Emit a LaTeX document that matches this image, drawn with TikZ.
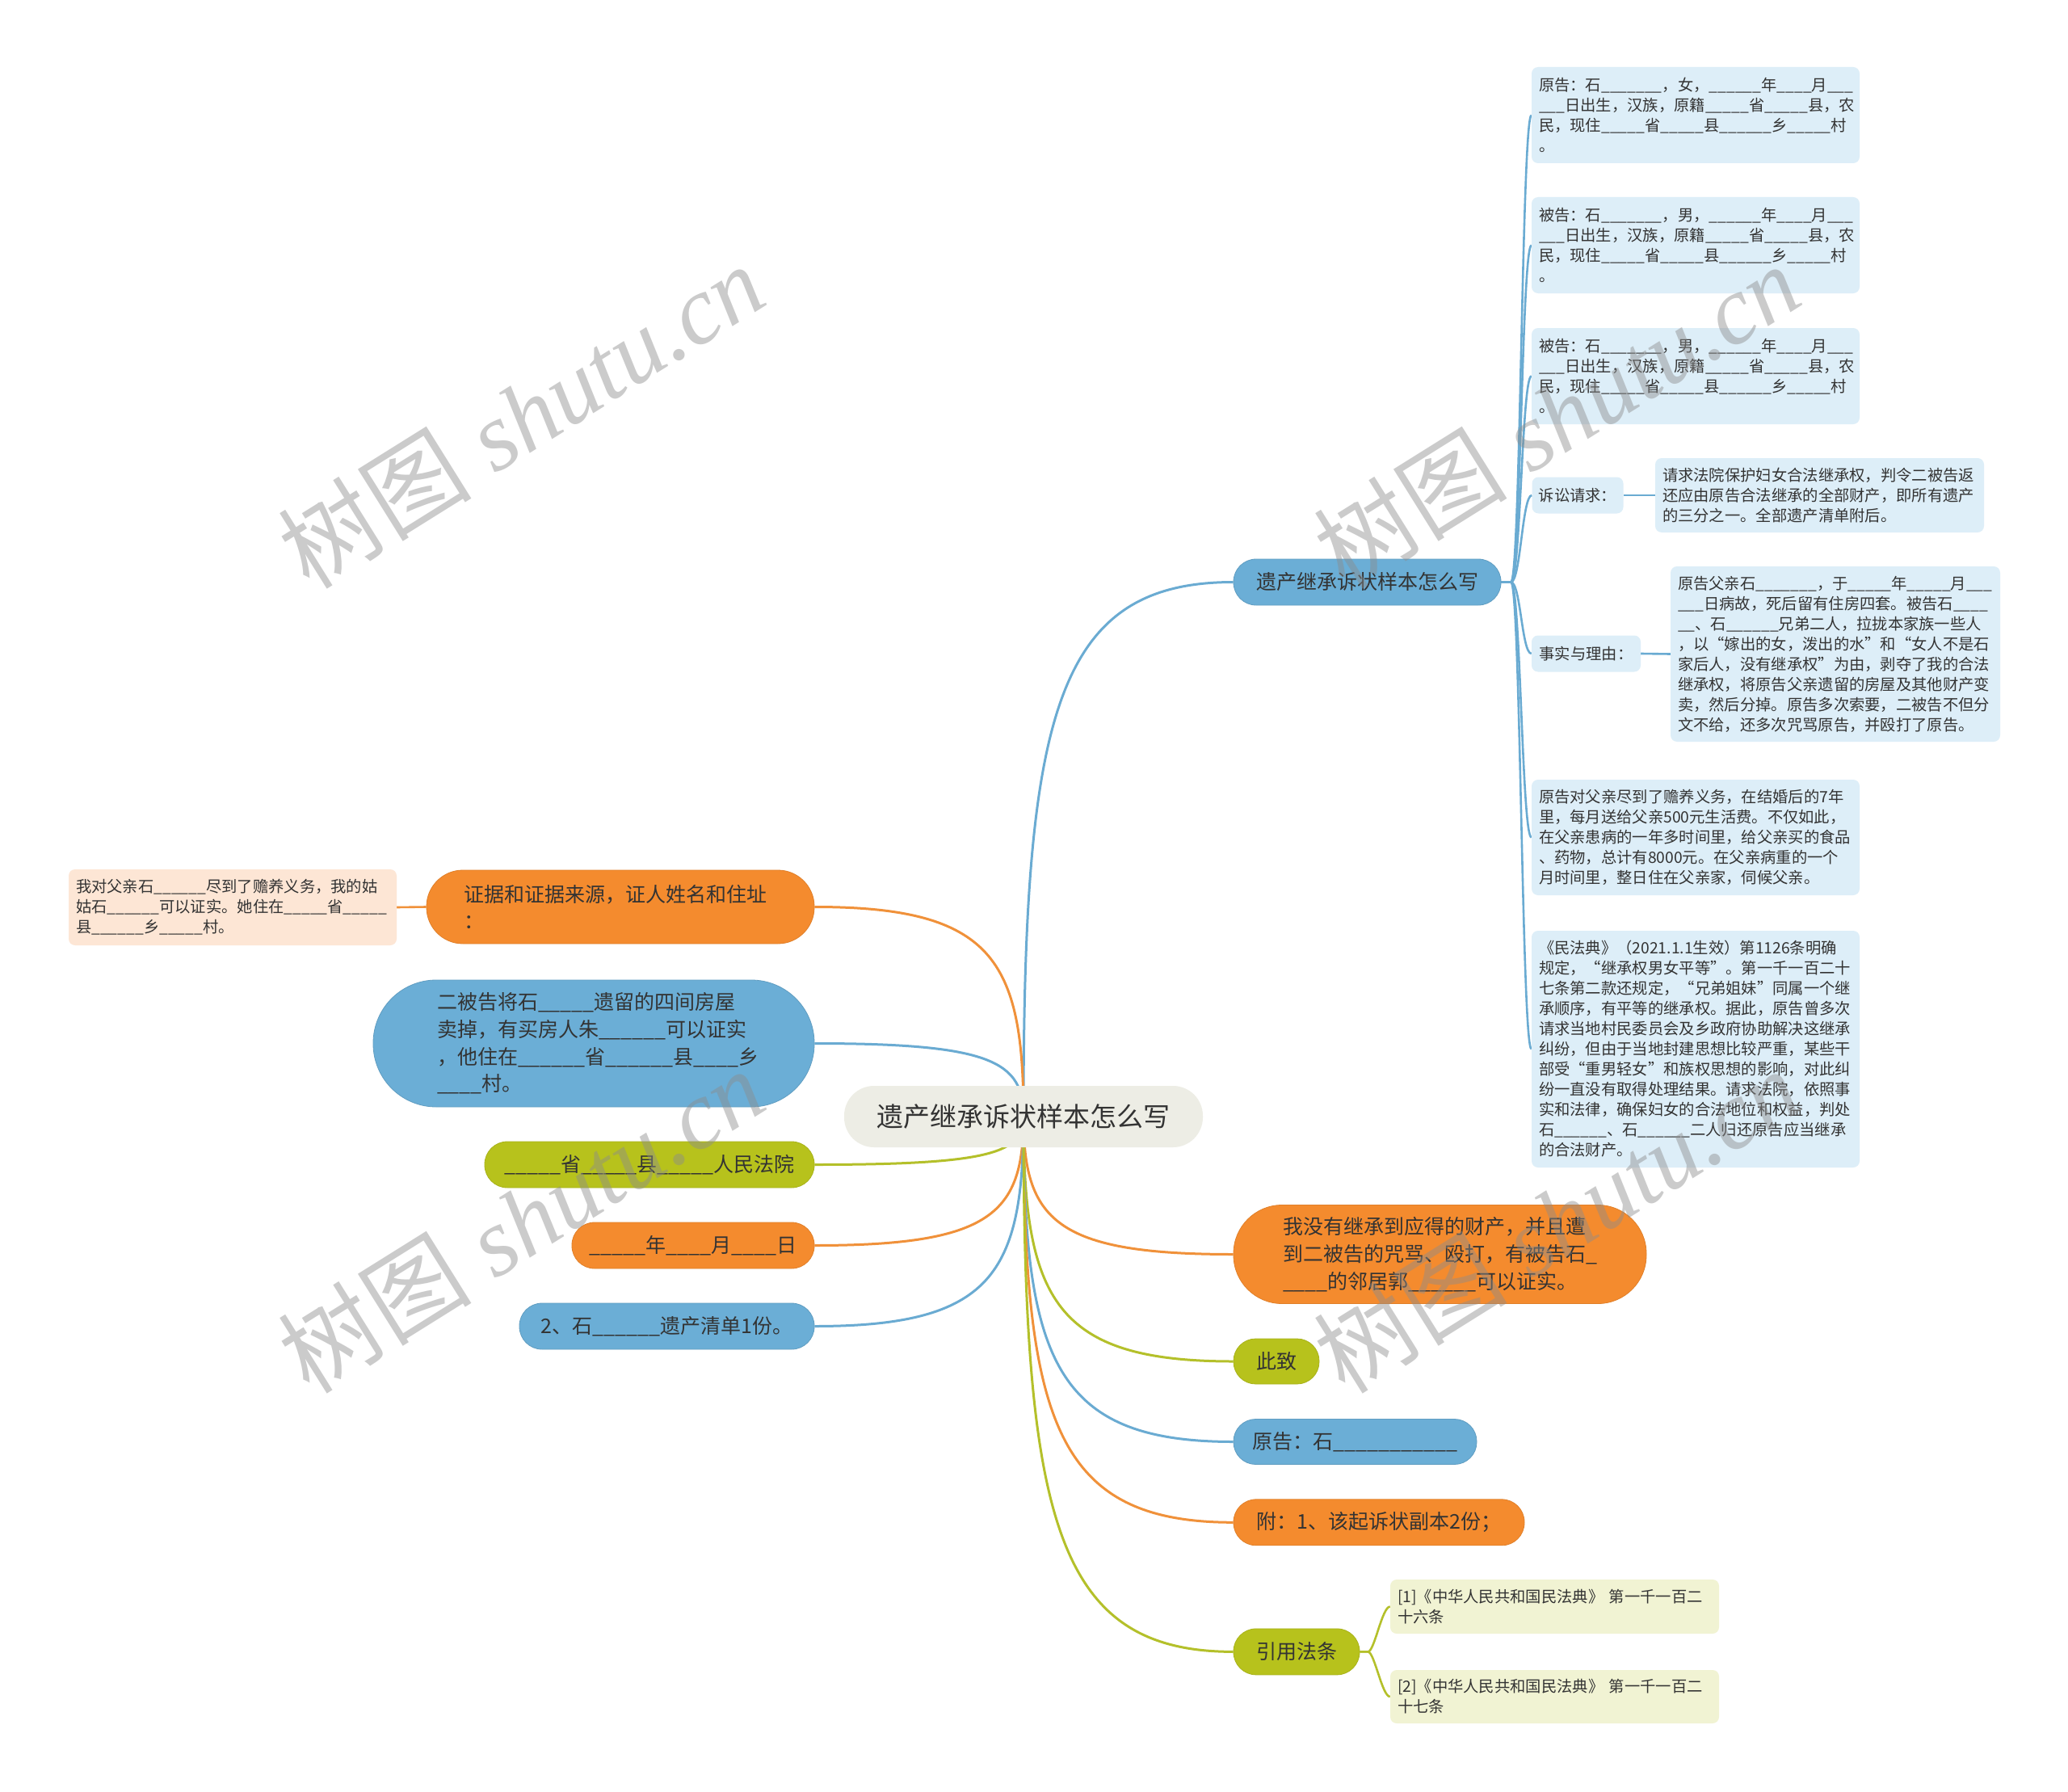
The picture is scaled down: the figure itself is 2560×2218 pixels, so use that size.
\documentclass[tikz,border=0pt]{standalone}
\usepackage{fontspec}
\setmainfont{Noto Sans CJK SC}
\newfontfamily\wmlatin{Liberation Serif}
\usetikzlibrary{calc}
\pgfdeclarelayer{bg}
\pgfsetlayers{bg,main}
\definecolor{cblue}{HTML}{6BAED6}
\definecolor{corange}{HTML}{F48B2E}
\definecolor{cgreen}{HTML}{B7C21C}
\definecolor{croot}{HTML}{EDEDE5}
\definecolor{lblue}{HTML}{DDEEF8}
\definecolor{lpeach}{HTML}{FDE6D5}
\definecolor{lyellow}{HTML}{F1F3D3}
\definecolor{ink}{HTML}{333333}
\definecolor{lnblue}{HTML}{6AABD2}
\definecolor{lnorange}{HTML}{F0913A}
\definecolor{lngreen}{HTML}{B4C02A}
\tikzset{
  txt/.style={inner sep=0pt, text=ink},
  lf/.style={txt, rectangle, rounded corners=8pt, font=\fontsize{19.3}{25}\selectfont},
  lfw/.style={lf, minimum width=406pt, text width=388pt, align=left},
  pl/.style={txt, rectangle, font=\fontsize{25}{33.7}\selectfont, line width=0.8pt},
  bluepl/.style={pl, fill=cblue, draw=cblue!90!black},
  orangepl/.style={pl, fill=corange, draw=corange!92!black},
  greenpl/.style={pl, fill=cgreen, draw=cgreen!92!black},
  rootnode/.style={txt, rectangle, fill=croot, rounded corners=37pt, font=\fontsize{33}{40}\selectfont},
  mconn/.style={line width=3pt, to path={.. controls ($(\tikztostart)!0.75!(\tikztostart|-\tikztotarget)$) and ($(\tikztotarget)!0.85!(\tikztostart|-\tikztotarget)$) .. (\tikztotarget)}},
  lconn/.style={line width=2.6pt},
  wmk/.style={inner sep=0pt, text=black!45, opacity=0.45, font=\fontsize{120}{120}\selectfont, rotate=32}
}
\begin{document}
\catcode`\_=12
\begin{tikzpicture}[x=1pt,y=-1pt]
\useasboundingbox (0,0) rectangle (2560,2218);

% root
\node[rootnode, minimum width=444pt, minimum height=76pt] (root) at (1267,1382) {遗产继承诉状样本怎么写};

% top right branch
\node[bluepl, minimum width=331pt, minimum height=57pt, rounded corners=28pt] (b1) at (1692.5,720.5) {遗产继承诉状样本怎么写};

\node[lfw, fill=lblue, minimum height=119pt] (p1) at (2099,142.5) {原告：石_______，女，______年____月___\\___日出生，汉族，原籍_____省_____县，农\\民，现住_____省_____县______乡_____村\\。};
\node[lfw, fill=lblue, minimum height=119pt] (d1) at (2099,303.5) {被告：石_______，男，______年____月___\\___日出生，汉族，原籍_____省_____县，农\\民，现住_____省_____县______乡_____村\\。};
\node[lfw, fill=lblue, minimum height=119pt] (d2) at (2099,465.5) {被告：石_______，男，______年____月___\\___日出生，汉族，原籍_____省_____县，农\\民，现住_____省_____县______乡_____村\\。};
\node[lf, fill=lblue, minimum width=113pt, minimum height=45pt] (q) at (1953,613) {诉讼请求：};
\node[lf, fill=lblue, minimum width=407pt, text width=389pt, align=left, minimum height=92pt] (qc) at (2252.5,613) {请求法院保护妇女合法继承权，判令二被告返\\还应由原告合法继承的全部财产，即所有遗产\\的三分之一。全部遗产清单附后。};
\node[lf, fill=lblue, minimum width=135pt, minimum height=45pt] (f) at (1963.5,809) {事实与理由：};
\node[lf, fill=lblue, minimum width=408pt, text width=390pt, align=left, minimum height=217pt] (fc) at (2272,809.5) {原告父亲石_______，于_____年_____月___\\___日病故，死后留有住房四套。被告石____\\__、石______兄弟二人，拉拢本家族一些人\\，以“嫁出的女，泼出的水”和“女人不是石\\家后人，没有继承权”为由，剥夺了我的合法\\继承权，将原告父亲遗留的房屋及其他财产变\\卖，然后分掉。原告多次索要，二被告不但分\\文不给，还多次咒骂原告，并殴打了原告。};
\node[lfw, fill=lblue, minimum height=143pt] (e1) at (2099,1036.5) {原告对父亲尽到了赡养义务，在结婚后的7年\\里，每月送给父亲500元生活费。不仅如此，\\在父亲患病的一年多时间里，给父亲买的食品\\、药物，总计有8000元。在父亲病重的一个\\月时间里，整日住在父亲家，伺候父亲。};
\node[lfw, fill=lblue, minimum height=293pt] (e2) at (2099,1298.5) {《民法典》（2021.1.1生效）第1126条明确\\规定，“继承权男女平等”。第一千一百二十\\七条第二款还规定，“兄弟姐妹”同属一个继\\承顺序，有平等的继承权。据此，原告曾多次\\请求当地村民委员会及乡政府协助解决这继承\\纠纷，但由于当地封建思想比较严重，某些干\\部受“重男轻女”和族权思想的影响，对此纠\\纷一直没有取得处理结果。请求法院，依照事\\实和法律，确保妇女的合法地位和权益，判处\\石______、石______二人归还原告应当继承\\的合法财产。};

% left side
\node[orangepl, minimum width=480pt, minimum height=91pt, rounded corners=45pt, text width=388pt, align=left] (ev) at (768,1122.5) {证据和证据来源，证人姓名和住址\\：};
\node[lfw, fill=lpeach, minimum height=94pt] (evc) at (288,1123) {我对父亲石______尽到了赡养义务，我的姑\\姑石______可以证实。她住在_____省_____\\县______乡_____村。};
\node[bluepl, minimum width=546pt, minimum height=157pt, rounded corners=78pt, text width=388pt, align=left] (sell) at (735,1291.5) {二被告将石_____遗留的四间房屋\\卖掉，有买房人朱______可以证实\\，他住在______省______县____乡\\____村。};
\node[greenpl, minimum width=408pt, minimum height=57pt, rounded corners=28pt] (court) at (804,1441.5) {_____省_____县_____人民法院};
\node[orangepl, minimum width=300pt, minimum height=57pt, rounded corners=28pt] (date) at (858,1541.5) {_____年____月____日};
\node[bluepl, minimum width=365pt, minimum height=57pt, rounded corners=28pt] (list) at (825.5,1641.5) {2、石______遗产清单1份。};

% right bottom
\node[orangepl, minimum width=511pt, minimum height=122pt, rounded corners=60pt, text width=389pt, align=left] (nobeq) at (1782.5,1552.5) {我没有继承到应得的财产，并且遭\\到二被告的咒骂、殴打，有被告石_\\____的邻居郭______可以证实。};
\node[greenpl, minimum width=106pt, minimum height=56pt, rounded corners=27.5pt] (cizhi) at (1580,1685) {此致};
\node[bluepl, minimum width=301pt, minimum height=56pt, rounded corners=27.5pt] (yuangao) at (1677.5,1784.5) {原告：石___________};
\node[orangepl, minimum width=360pt, minimum height=57pt, rounded corners=28pt] (fu) at (1707,1884.3) {附：1、该起诉状副本2份；};
\node[greenpl, minimum width=156pt, minimum height=57pt, rounded corners=28pt] (yinyong) at (1605,2044.4) {引用法条};
\node[lf, fill=lyellow, minimum width=407pt, text width=389pt, align=left, minimum height=67pt] (r1) at (1924.5,1988.5) {[1]《中华人民共和国民法典》 第一千一百二\\十六条};
\node[lf, fill=lyellow, minimum width=407pt, text width=389pt, align=left, minimum height=66pt] (r2) at (1924.5,2100) {[2]《中华人民共和国民法典》 第一千一百二\\十七条};

% watermarks
\node[wmk] (wm1) at (645,514) {树图\hspace{0.25em}{\wmlatin\itshape shutu.cn}};
\node[wmk] (wm2) at (1927,514) {树图\hspace{0.25em}{\wmlatin\itshape shutu.cn}};
\node[wmk] (wm3) at (645,1510) {树图\hspace{0.25em}{\wmlatin\itshape shutu.cn}};
\node[wmk] (wm4) at (1927,1510) {树图\hspace{0.25em}{\wmlatin\itshape shutu.cn}};

\begin{pgfonlayer}{bg}
\fill[white] (0,0) rectangle (2560,2218);
\draw[mconn, lnblue] (root.center) to (b1.west);
\draw[mconn, lnorange] (root.center) to (ev.east);
\draw[mconn, lnblue] (root.center) to (sell.east);
\draw[mconn, lngreen] (root.center) to (court.east);
\draw[mconn, lnorange] (root.center) to (date.east);
\draw[mconn, lnblue] (root.center) to (list.east);
\draw[mconn, lnorange] (root.center) to (nobeq.west);
\draw[mconn, lngreen] (root.center) to (cizhi.west);
\draw[mconn, lnblue] (root.center) to (yuangao.west);
\draw[mconn, lnorange] (root.center) to (fu.west);
\draw[mconn, lngreen] (root.center) to (yinyong.west);
% branch to leaves
\foreach \t in {p1,d1,d2,q,f,e1,e2}{
  \draw[lconn, lnblue] (b1.east) -- ++(12,0) .. controls +(12,0) and +(-12,0) .. (\t.west);
}
\draw[lconn, lnblue] (q.east) -- (qc.west);
\draw[lconn, lnblue] (f.east) -- (fc.west);
\draw[lconn, lnorange] (ev.west) -- (evc.east);
\draw[lconn, lngreen] (yinyong.east) -- ++(10,0) .. controls +(8,0) and +(-10,0) .. (r1.west);
\draw[lconn, lngreen] (yinyong.east) -- ++(10,0) .. controls +(8,0) and +(-10,0) .. (r2.west);
\end{pgfonlayer}
\end{tikzpicture}
\end{document}
